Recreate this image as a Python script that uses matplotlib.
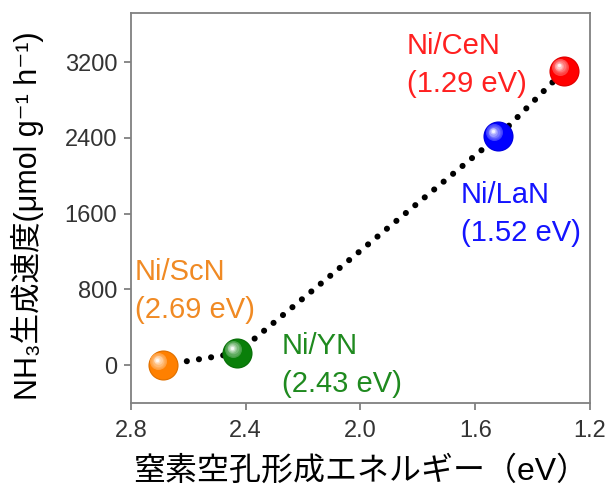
import matplotlib
matplotlib.use('Agg')
import matplotlib.pyplot as plt
from matplotlib.transforms import offset_copy
import numpy as np

plt.rcParams['font.family'] = ['Liberation Sans', 'Noto Sans CJK JP', 'DejaVu Sans']

# data
names = ['Ni/ScN', 'Ni/YN', 'Ni/LaN', 'Ni/CeN']
energy = [2.69, 2.43, 1.52, 1.29]          # eV
rate = [0, 127, 2417, 3110]                # umol g-1 h-1
ball_colors = ['#ff8000', '#0a7f0a', '#0000ff', '#ff0000']
text_colors = ['#f08a24', '#1f8a1f', '#1414ff', '#ff2020']
label_pos = [(2.786, 780), (2.274, 0), (1.650, 1594), (1.838, 3170)]
x_ticks = [2.8, 2.4, 2.0, 1.6, 1.2]
y_ticks = [0, 800, 1600, 2400, 3200]

fig = plt.figure(figsize=(6.07, 4.98), dpi=100)
ax = fig.add_axes([0.2158, 0.1908, 0.972 - 0.2158, 0.9739 - 0.1908])

ax.plot(energy, rate, color='k', lw=4.4, linestyle=(0, (0.01, 2.0)),
        dash_capstyle='round', zorder=2)


def white_mix(c, f):
    rgb = np.array(matplotlib.colors.to_rgb(c))
    return tuple(rgb + (1 - rgb) * f)


def dark_mix(c, f):
    rgb = np.array(matplotlib.colors.to_rgb(c))
    return tuple(rgb * (1 - f))


# shaded balls: darker rim, flat body, small specular spot up-left
for x, y, c in zip(energy, rate, ball_colors):
    ax.scatter([x], [y], s=470, color=dark_mix(c, 0.12), zorder=3, lw=0)
    ax.scatter([x], [y], s=400, color=c, zorder=3.01, lw=0)
    n = 6
    for i in range(n):
        f = i / (n - 1)
        size = 150 * (1 - f * 0.8) ** 2
        tr = offset_copy(ax.transData, fig=fig, x=-3.0 - 0.8 * f, y=3.0 + 0.8 * f,
                         units='points')
        ax.scatter([x], [y], s=size, color=white_mix(c, 0.25 + 0.7 * f ** 1.3),
                   transform=tr, zorder=3.02 + i * 0.01, lw=0)

for nm, e, (lx, ly), tc in zip(names, energy, label_pos, text_colors):
    ax.text(lx, ly, '%s\n(%.2f eV)' % (nm, e), color=tc, fontsize=21,
            ha='left', va='center', linespacing=1.45, zorder=5)

ax.set_xlim(2.8, 1.2)
ax.set_ylim(-400, 3720)
ax.set_xticks(x_ticks)
ax.set_xticklabels(['%.1f' % v for v in x_ticks])
ax.set_yticks(y_ticks)

for sp in ax.spines.values():
    sp.set_color('#808080')
    sp.set_linewidth(1.3)
ax.tick_params(direction='out', length=5, width=1.3, color='#808080',
               labelcolor='#333333', labelsize=17)
ax.tick_params(axis='x', pad=7)
ax.tick_params(axis='y', pad=5)

fig.text(27 / 607, 1 - 216 / 498, 'NH₃生成速度(μmol g⁻¹ h⁻¹)', rotation=90,
         ha='center', va='center', fontsize=22, color='black')
fig.text(361 / 607, 1 - 471 / 498, '窒素空孔形成エネルギー（eV）',
         ha='center', va='center', fontsize=23, color='black')

fig.savefig('out.png', dpi=100)
